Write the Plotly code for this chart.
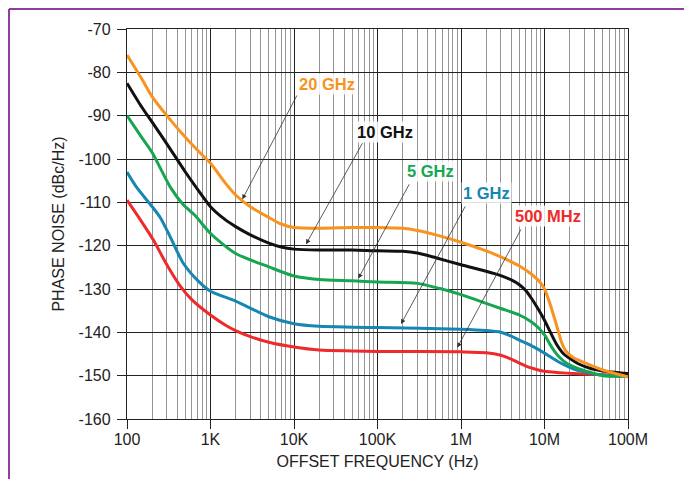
import plotly.graph_objects as go

# ---- data ----
f_20g = [100, 150, 200, 300, 500, 700, 1e3, 1.5e3, 2e3, 3e3, 5e3, 7e3, 1e4, 2e4, 5e4, 1e5, 2e5, 3e5, 5e5,
         1e6, 2e6, 3e6, 5e6, 7e6, 9e6, 1e7, 1.1e7, 1.2e7, 1.3e7, 1.4e7, 1.5e7, 1.6e7, 1.8e7, 2.2e7, 3e7,
         5e7, 1e8]
pn_20g = [-76, -81.5, -85.6, -90, -95, -98, -101, -105.5, -108.3, -111, -113.5, -115, -115.8, -116, -115.8,
          -115.8, -116, -116.5, -117.5, -119.2, -121.2, -122.6, -124.7, -126.6, -128.6, -130, -132,
          -134.2, -136.4, -138.5, -140.5, -142.3, -144.3, -145.8, -147, -148.7, -150.3]

f_10g = [100, 150, 200, 300, 500, 700, 1e3, 1.5e3, 2e3, 3e3, 5e3, 7e3, 1e4, 2e4, 5e4, 1e5, 2e5, 3e5, 5e5,
         1e6, 2e6, 3e6, 4e6, 5e6, 6e6, 7e6, 8.5e6, 1e7, 1.2e7, 1.4e7, 1.7e7, 2e7, 2.5e7, 3.5e7, 5e7, 1e8]
pn_10g = [-82.5, -88, -91.5, -96.5, -103, -107, -111, -114, -115.6, -117.5, -119.4, -120.3, -120.8, -121,
          -121, -121.2, -121.3, -121.7, -122.8, -124.4, -125.9, -126.9, -127.9, -129, -130.4, -132.2,
          -134.8, -137.2, -140.3, -142.8, -145, -146, -147.2, -148.3, -148.9, -149.5]

f_5g = [100, 150, 200, 330, 470, 650, 1e3, 2e3, 5e3, 1e4, 2e4, 5e4, 1e5, 3e5, 5.6e5, 1e6, 2e6, 3e6, 5e6,
        7e6, 8.5e6, 1e7, 1.15e7, 1.3e7, 1.5e7, 1.8e7, 2.5e7, 3.5e7, 5e7, 1e8]
pn_5g = [-90, -95, -98.5, -106.5, -110.5, -113, -117.2, -121.8, -124.9, -127, -127.8, -128.1, -128.4,
         -128.7, -129.9, -131.3, -133.3, -134.5, -136, -137.6, -139, -140.6, -142.6, -144.2, -145.7,
         -147, -148.3, -149.2, -150, -150.1]

f_1g = [100, 130, 200, 250, 330, 470, 700, 1e3, 2e3, 5e3, 1e4, 2e4, 5e4, 1e5, 1e6, 2e6, 3e6, 4e6, 5e6,
        6.5e6, 8e6, 1e7, 1.25e7, 1.5e7, 2.2e7, 3e7, 5e7, 1e8]
pn_1g = [-103, -106.5, -111, -113.5, -118, -124, -128, -130.5, -132.8, -136.4, -138, -138.6, -138.8,
         -138.9, -139.3, -139.6, -140, -140.9, -141.8, -142.8, -143.7, -144.8, -146, -146.9, -148.4,
         -149.1, -149.9, -150.2]

f_500m = [100, 150, 207, 300, 430, 600, 1e3, 1.5e3, 2e3, 3e3, 5e3, 1e4, 2e4, 5e4, 1e5, 1e6, 2e6, 3e6,
          4e6, 5e6, 6e6, 7.5e6, 1e7, 1.5e7, 2.2e7, 5e7, 1e8]
pn_500m = [-109.5, -114.5, -118.7, -124.4, -129.2, -132.5, -136, -138.3, -139.6, -141, -142.3, -143.4,
           -144.1, -144.3, -144.4, -144.5, -144.7, -145.3, -146.2, -147.1, -147.8, -148.4, -149, -149.3,
           -149.5, -149.8, -150]

series_names = ["20 GHz", "10 GHz", "5 GHz", "1 GHz", "500 MHz"]
series_colors = ["#F7931E", "#111111", "#16A652", "#1587B0", "#EE2A2A"]

x_tickvals = [1e2, 1e3, 1e4, 1e5, 1e6, 1e7, 1e8]
x_ticktext = ["100", "1K", "10K", "100K", "1M", "10M", "100M"]
y_tickvals = [-160, -150, -140, -130, -120, -110, -100, -90, -80, -70]
y_ticktext = ["-160", "-150", "-140", "-130", "-120", "-110", "-100", "-90", "-80", "-70"]

# label positions: (text center log10(f), dB), arrow head (log10 f, dB), arrow tail (log10 f, dB)
label_pos = [(4.395, -82.7), (5.093, -93.7), (5.632, -102.8), (6.309, -107.9), (7.042, -113.2)]
arrow_head = [(3.381, -109.3), (4.144, -119.65), (4.770, -127.6), (5.281, -138.1), (5.956, -143.5)]
arrow_tail = [(4.044, -85.0), (4.830, -96.0), (5.389, -105.5), (6.060, -110.6), (6.727, -115.9)]

FONT = "Liberation Sans, Arial, sans-serif"

fig = go.Figure()
all_f = [f_20g, f_10g, f_5g, f_1g, f_500m]
all_pn = [pn_20g, pn_10g, pn_5g, pn_1g, pn_500m]
for i in reversed(range(5)):
    fig.add_trace(go.Scatter(x=all_f[i], y=all_pn[i], mode="lines", name=series_names[i],
                             line=dict(color=series_colors[i], width=3, shape="spline", smoothing=0.7)))

minor_vals = [m * 10 ** d for d in range(2, 8) for m in range(2, 10)]

fig.update_xaxes(type="log", range=[2, 8], tickvals=x_tickvals, ticktext=x_ticktext,
                 showgrid=True, gridcolor="#222222", gridwidth=1.3,
                 ticks="outside", ticklen=9, tickcolor="#222222", tickwidth=1.3,
                 ticklabelstandoff=-3,
                 showline=True, mirror=True, linecolor="#222222", linewidth=1.3,
                 zeroline=False,
                 tickfont=dict(family=FONT, size=16, color="#222222"),
                 title=dict(text="OFFSET FREQUENCY (Hz)", standoff=8,
                            font=dict(family=FONT, size=16, color="#222222")),
                 minor=dict(tickvals=minor_vals, showgrid=True, gridcolor="#969696", gridwidth=1, ticklen=0))
fig.update_yaxes(range=[-160, -70], tickvals=y_tickvals, ticktext=y_ticktext,
                 showgrid=True, gridcolor="#222222", gridwidth=1.3,
                 ticks="outside", ticklen=9, tickcolor="#222222", tickwidth=1.3,
                 ticklabelstandoff=3,
                 showline=True, mirror=True, linecolor="#222222", linewidth=1.3,
                 zeroline=False,
                 tickfont=dict(family=FONT, size=16, color="#222222"),
                 title=dict(text="PHASE NOISE (dBc/Hz)", standoff=10,
                            font=dict(family=FONT, size=16, color="#222222")))

annotations = []
for i in range(5):
    annotations.append(dict(x=arrow_head[i][0], y=arrow_head[i][1], ax=arrow_tail[i][0], ay=arrow_tail[i][1],
                            xref="x", yref="y", axref="x", ayref="y", text="", showarrow=True,
                            arrowhead=2, arrowsize=1.2, arrowwidth=0.8, arrowcolor="#333333", standoff=0))
    annotations.append(dict(x=label_pos[i][0], y=label_pos[i][1], xref="x", yref="y", text="<b>%s</b>" % series_names[i],
                            showarrow=False, font=dict(family=FONT, size=16.5, color=series_colors[i]),
                            bgcolor="rgba(255,255,255,0.85)"))

# page body has an 8px margin, so the figure is sized/offset to land the plot where the reference has it
fig.update_layout(
    width=684, height=471,
    margin=dict(l=119, r=64, t=21, b=60, autoexpand=False),
    paper_bgcolor="white", plot_bgcolor="white",
    showlegend=False,
    annotations=annotations,
    shapes=[
        dict(type="line", xref="paper", yref="paper", x0=-0.2355, x1=1.2, y0=1.0513, y1=1.0513,
             line=dict(color="#8E3D9E", width=2)),
        dict(type="line", xref="paper", yref="paper", x0=-0.2355, x1=-0.2355, y0=1.0513, y1=-0.2,
             line=dict(color="#8E3D9E", width=2)),
    ],
)

fig.write_html("out.html")
